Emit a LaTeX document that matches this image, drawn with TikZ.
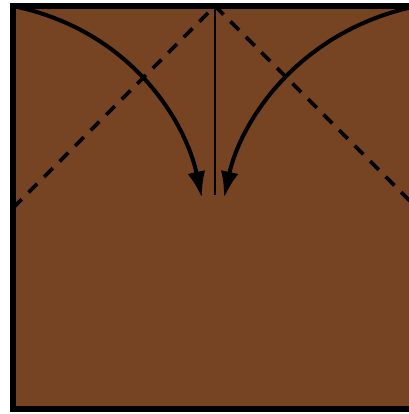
\documentclass[tikz,border=0pt]{standalone}
\usepackage{tikz}
\usetikzlibrary{arrows.meta}
\definecolor{paperbrown}{RGB}{118,67,35}

\begin{document}
\begin{tikzpicture}[
  x=0.02cm, y=-0.02cm,
  sheet/.style={draw=black, fill=paperbrown, line width=3.4pt},
  valley/.style={draw=black, dashed, line width=2.2pt, dash pattern=on 7pt off 5.5pt},
  crease/.style={draw=black, line width=1.1pt},
  fold/.style={-{Latex[length=5.3mm, width=3.6mm]}, draw=black, line width=2.3pt}
]
\useasboundingbox (0,0) rectangle (409,414);
\clip (0,0) rectangle (409,414);
% the sheet, its right edge falls outside the frame
\coordinate (tl) at (13,6);
\coordinate (tr) at (417,6);
\coordinate (bl) at (13,409);
\coordinate (br) at (417,409);
\draw[sheet] (tl) -- (tr) -- (br) -- (bl) -- cycle;

\coordinate (apex) at (215,6);
\coordinate (midl) at (13,208);
\coordinate (midr) at (417,208);
\coordinate (centre) at (215,195);
\coordinate (tipl) at (202,198);
\coordinate (tipr) at (224,198);

\draw[valley] (midl) -- (apex) -- (midr);
\draw[crease] (apex) -- (centre);

\draw[fold] (tl) .. controls (130,30) and (185,120) .. (tipl);
\draw[fold] (tr) .. controls (300,30) and (241,120) .. (tipr);
\end{tikzpicture}
\end{document}
